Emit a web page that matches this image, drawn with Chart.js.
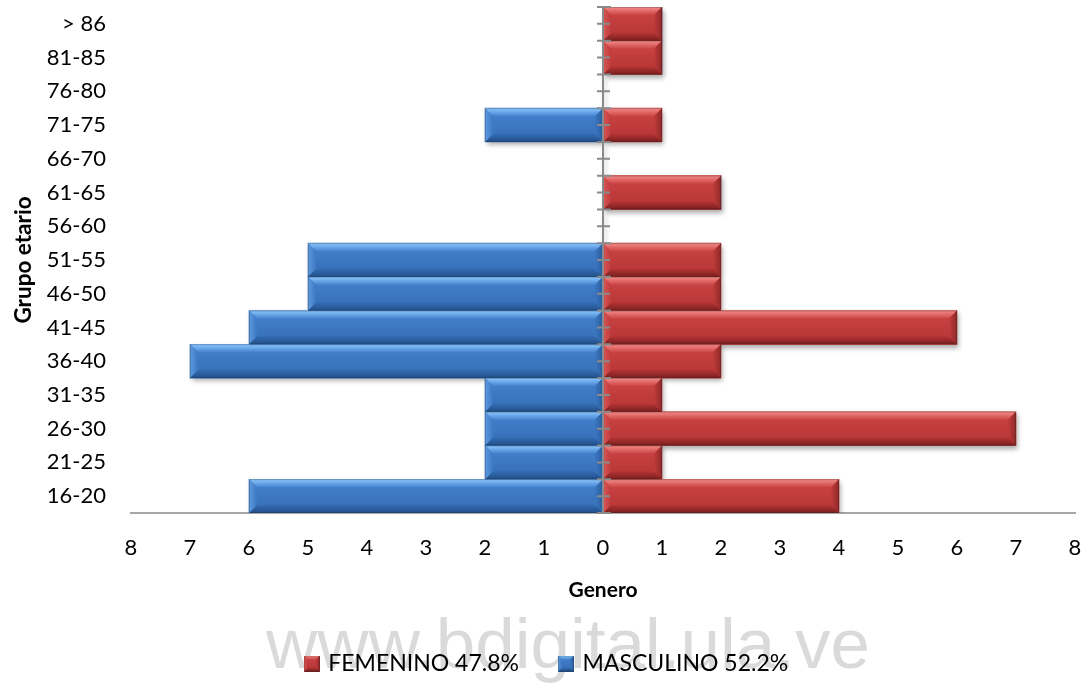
<!DOCTYPE html>
<html>
<head>
<meta charset="utf-8">
<script src="https://cdn.jsdelivr.net/npm/chart.js@4.4.1/dist/chart.umd.min.js"></script>
<style>
  html, body { margin: 0; padding: 0; background: #ffffff; }
  #wrap { width: 1084px; height: 685px; position: relative; }
</style>
</head>
<body>
<div id="wrap"><canvas id="pyramid" width="1084" height="685"></canvas></div>
<script>
// Age groups, bottom to top
const ageGroups = ['16-20', '21-25', '26-30', '31-35', '36-40', '41-45', '46-50',
                   '51-55', '56-60', '61-65', '66-70', '71-75', '76-80', '81-85', '> 86'];

// Number of people per age group
const femenino  = [4, 1, 7, 1, 2, 6, 2, 2, 0, 2, 0, 1, 0, 1, 1];
const masculino = [6, 2, 2, 2, 7, 6, 5, 5, 0, 0, 0, 2, 0, 0, 0];

const seriesNames = ['FEMENINO 47.8%', 'MASCULINO 52.2%'];
const axisLimit = 8;

const FONT = 'Lato, "Open Sans", sans-serif';

// Bevel colours for each series
const bevel = {
  red:  { face: '#c23b3b', faceTop: '#cc4545', faceBot: '#b53434',
          light: '#f48c8a', dark: '#7a1f1f', left: '#d65757', right: '#8f2828' },
  blue: { face: '#3c77c2', faceTop: '#4583cf', faceBot: '#346cb3',
          light: '#8cc8ff', dark: '#21508a', left: '#5e9be0', right: '#2b5c9c' }
};

function drawBevelRect(ctx, L, T, R, B, pal, size) {
  const b = Math.min(size, (R - L) / 2, (B - T) / 2);
  // face
  let g = ctx.createLinearGradient(0, T, 0, B);
  g.addColorStop(0, pal.faceTop); g.addColorStop(1, pal.faceBot);
  ctx.fillStyle = g;
  ctx.fillRect(L, T, R - L, B - T);
  // top
  g = ctx.createLinearGradient(0, T, 0, T + b);
  g.addColorStop(0, pal.light); g.addColorStop(1, pal.faceTop);
  ctx.fillStyle = g;
  ctx.beginPath(); ctx.moveTo(L, T); ctx.lineTo(R, T); ctx.lineTo(R - b, T + b); ctx.lineTo(L + b, T + b); ctx.closePath(); ctx.fill();
  // bottom
  g = ctx.createLinearGradient(0, B - b, 0, B);
  g.addColorStop(0, pal.faceBot); g.addColorStop(1, pal.dark);
  ctx.fillStyle = g;
  ctx.beginPath(); ctx.moveTo(L, B); ctx.lineTo(R, B); ctx.lineTo(R - b, B - b); ctx.lineTo(L + b, B - b); ctx.closePath(); ctx.fill();
  // left
  g = ctx.createLinearGradient(L, 0, L + b, 0);
  g.addColorStop(0, pal.left); g.addColorStop(1, pal.face);
  ctx.fillStyle = g;
  ctx.beginPath(); ctx.moveTo(L, T); ctx.lineTo(L + b, T + b); ctx.lineTo(L + b, B - b); ctx.lineTo(L, B); ctx.closePath(); ctx.fill();
  // right
  g = ctx.createLinearGradient(R - b, 0, R, 0);
  g.addColorStop(0, pal.face); g.addColorStop(1, pal.right);
  ctx.fillStyle = g;
  ctx.beginPath(); ctx.moveTo(R, T); ctx.lineTo(R - b, T + b); ctx.lineTo(R - b, B - b); ctx.lineTo(R, B); ctx.closePath(); ctx.fill();
  // thin rim
  ctx.strokeStyle = 'rgba(30,30,30,0.25)';
  ctx.lineWidth = 1;
  ctx.strokeRect(L + 0.5, T + 0.5, R - L - 1, B - T - 1);
}

function legendSwatch(pal) {
  const c = document.createElement('canvas');
  c.width = 16; c.height = 16;
  const x = c.getContext('2d');
  drawBevelRect(x, 0, 0, 16, 16, pal, 4);
  return c;
}
const swatches = [legendSwatch(bevel.red), legendSwatch(bevel.blue)];

// Watermark text behind the chart
const watermark = {
  id: 'watermark',
  beforeDraw(chart) {
    const ctx = chart.ctx;
    ctx.save();
    ctx.font = '71px "Liberation Sans", Arial, sans-serif';
    ctx.fillStyle = '#dadada';
    ctx.textAlign = 'center';
    ctx.textBaseline = 'alphabetic';
    ctx.fillText('www.bdigital.ula.ve', 568, 668);
    ctx.restore();
  }
};

// Nudge the legend row slightly to the right of the canvas centre
const legendNudge = {
  id: 'legendNudge',
  afterLayout(chart) {
    if (chart.legend) chart.legend.left += 20;
  }
};

// Shadows under bars, bevel on top of them, centre axis with tick marks
const barStyling = {
  id: 'barStyling',
  beforeDatasetsDraw(chart) {
    const ctx = chart.ctx;
    ctx.save();
    ctx.shadowColor = 'rgba(0,0,0,0.35)';
    ctx.shadowBlur = 5;
    ctx.shadowOffsetX = 2;
    ctx.shadowOffsetY = 3;
  },
  afterDatasetsDraw(chart) {
    const ctx = chart.ctx;
    ctx.restore();
    chart.data.datasets.forEach((ds, i) => {
      const meta = chart.getDatasetMeta(i);
      const pal = i === 0 ? bevel.red : bevel.blue;
      meta.data.forEach(el => {
        const p = el.getProps(['x', 'y', 'base', 'height'], true);
        const L = Math.min(p.x, p.base), R = Math.max(p.x, p.base);
        if (R - L < 1) return;
        const T = p.y - p.height / 2, B = p.y + p.height / 2;
        ctx.save();
        drawBevelRect(ctx, L, T, R, B, pal, 8);
        ctx.restore();
      });
    });
    // centre axis
    const xs = chart.scales.x, ys = chart.scales.y, area = chart.chartArea;
    const x0 = xs.getPixelForValue(0);
    ctx.save();
    ctx.strokeStyle = '#8a8a8a';
    ctx.lineWidth = 2;
    ctx.beginPath();
    ctx.moveTo(x0, area.top); ctx.lineTo(x0, area.bottom);
    const n = ageGroups.length;
    const step = (area.bottom - area.top) / n;
    for (let k = 0; k <= n; k++) {
      const yb = area.top + k * step;
      ctx.moveTo(x0 - 6, yb); ctx.lineTo(x0 + 8, yb);
    }
    for (let k = 0; k < n; k++) {
      const yc = ys.getPixelForValue(k);
      ctx.moveTo(x0 - 6, yc); ctx.lineTo(x0 + 7, yc);
    }
    ctx.stroke();
    ctx.restore();
  }
};

new Chart(document.getElementById('pyramid'), {
  type: 'bar',
  data: {
    labels: ageGroups,
    datasets: [
      { label: seriesNames[0], data: femenino, backgroundColor: bevel.red.face, borderWidth: 0 },
      { label: seriesNames[1], data: masculino.map(v => -v), backgroundColor: bevel.blue.face, borderWidth: 0 }
    ]
  },
  plugins: [watermark, legendNudge, barStyling],
  options: {
    indexAxis: 'y',
    responsive: false,
    animation: false,
    layout: { padding: { top: 7, right: 9, left: 0, bottom: 0 } },
    datasets: { bar: { barPercentage: 1, categoryPercentage: 1 } },
    scales: {
      x: {
        stacked: true,
        min: -axisLimit,
        max: axisLimit,
        ticks: {
          stepSize: 1,
          color: '#000',
          font: { family: FONT, size: 22 },
          padding: 22,
          maxRotation: 0,
          callback: v => Math.abs(v)
        },
        grid: { display: false, drawTicks: false },
        border: { display: true, color: '#a6a6a6', width: 2 },
        title: {
          display: true,
          text: 'Genero',
          color: '#000',
          font: { family: FONT, size: 21, weight: 'bold' },
          padding: { top: 0, bottom: 7 }
        },
        afterFit: s => { s.height = 97; s.paddingLeft = 0; s.paddingRight = 0; }
      },
      y: {
        stacked: true,
        reverse: true,
        ticks: {
          color: '#000',
          font: { family: FONT, size: 22 },
          padding: 25,
          autoSkip: false
        },
        grid: { display: false, drawTicks: false },
        border: { display: false },
        title: {
          display: true,
          text: 'Grupo etario',
          color: '#000',
          font: { family: FONT, size: 22.5, weight: 'bold' },
          padding: { top: 10, bottom: 0 }
        },
        afterFit: s => { s.width = 131; s.paddingTop = 0; s.paddingBottom = 0; }
      }
    },
    plugins: {
      tooltip: { enabled: false },
      legend: {
        position: 'bottom',
        labels: {
          color: '#000',
          font: { family: FONT, size: 23 },
          usePointStyle: true,
          pointStyleWidth: 10,
          padding: 42,
          generateLabels(chart) {
            const items = Chart.defaults.plugins.legend.labels.generateLabels(chart);
            items.forEach((it, i) => { it.pointStyle = swatches[i]; });
            return items;
          }
        }
      }
    }
  }
});
</script>
</body>
</html>
